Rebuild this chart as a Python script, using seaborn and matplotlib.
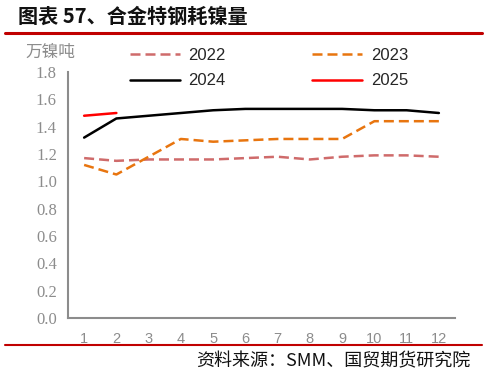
import matplotlib
matplotlib.use("Agg")
import matplotlib.pyplot as plt
import seaborn as sns
import pandas as pd
import numpy as np
from matplotlib.lines import Line2D

months = [str(i) for i in range(1, 13)]
y2022 = [1.17, 1.15, 1.16, 1.16, 1.16, 1.17, 1.18, 1.16, 1.18, 1.19, 1.19, 1.18]
y2023 = [1.12, 1.05, 1.18, 1.31, 1.29, 1.30, 1.31, 1.31, 1.31, 1.44, 1.44, 1.44]
y2024 = [1.32, 1.46, 1.48, 1.50, 1.52, 1.53, 1.53, 1.53, 1.53, 1.52, 1.52, 1.50]
y2025 = [1.48, 1.50]
yticks = [0.0, 0.2, 0.4, 0.6, 0.8, 1.0, 1.2, 1.4, 1.6, 1.8]

sns.set_theme(style="white")
plt.rcParams['font.family'] = ['Noto Sans CJK SC', 'DejaVu Sans']

fig = plt.figure(figsize=(4.87, 3.75), dpi=100)
ax = fig.add_axes([68/487, 1-318/375, (455-68)/487, (318-72)/375])

series = [
    ("2022", y2022, "#CF6B6B", (4, 2)),
    ("2023", y2023, "#E8750F", (4, 2)),
    ("2024", y2024, "#000000", None),
    ("2025", y2025, "#FF0000", None),
]
handles = {}
for name, vals, col, dash in series:
    x = np.arange(len(vals))
    df = pd.DataFrame({"x": x, "y": vals})
    sns.lineplot(data=df, x="x", y="y", ax=ax, color=col, linewidth=1.8)
    ln = ax.lines[-1]
    if dash is not None:
        ln.set_dashes(dash)
    handles[name] = Line2D([], [], color=col, linewidth=1.8,
                           linestyle=(0, dash) if dash else '-', label=name)

ax.set_xlim(-0.5, 11.5)
ax.set_ylim(0, 1.8)
ax.set_xlabel("")
ax.set_ylabel("")
ax.set_yticks(yticks)
ax.set_yticklabels([f"{v:.1f}" for v in yticks], family="Liberation Serif",
                   fontsize=12, color="#8C8C8C")
ax.set_xticks(np.arange(12))
ax.set_xticklabels(months, fontsize=10.5, color="#8C8C8C", family="Liberation Sans")
ax.set_xticks(np.arange(-0.5, 12, 1), minor=True)
ax.tick_params(axis="x", which="major", length=0, pad=10)
ax.tick_params(axis="x", which="minor", direction="in", length=4, color="#8C8C8C", width=1.2)
ax.tick_params(axis="y", which="major", direction="in", length=4, color="#8C8C8C", width=1.2, pad=8)
for s in ["top", "right"]:
    ax.spines[s].set_visible(False)
for s in ["left", "bottom"]:
    ax.spines[s].set_color("#8C8C8C")
    ax.spines[s].set_linewidth(1.5)

order = ["2022", "2024", "2023", "2025"]
fig.legend(handles=[handles[k] for k in order], ncol=2, loc="upper left",
           bbox_to_anchor=(115/487, 1-33/375),
           frameon=False, prop={"family": "Liberation Sans", "size": 12},
           handlelength=3.0, columnspacing=5.2,
           labelspacing=0.63, handletextpad=0.5)

fig.text(25/487, 1-52/375, "万镍吨", fontsize=12, color="#8C8C8C", va="center", ha="left")
fig.text(18/487, 1-16/375, "图表 57、合金特钢耗镍量", fontsize=14.5, fontweight="bold",
         va="center", ha="left", color="#111111")
fig.add_artist(Line2D([5/487, 482/487], [1-33/375, 1-33/375], color="#C00000", linewidth=2.2))
fig.add_artist(Line2D([5/487, 482/487], [1-345/375, 1-345/375], color="#C00000", linewidth=1.5))
fig.text(470/487, 1-361/375, "资料来源：SMM、国贸期货研究院", fontsize=13, va="center",
         ha="right", color="#111111")

fig.savefig("out.png", dpi=100)
